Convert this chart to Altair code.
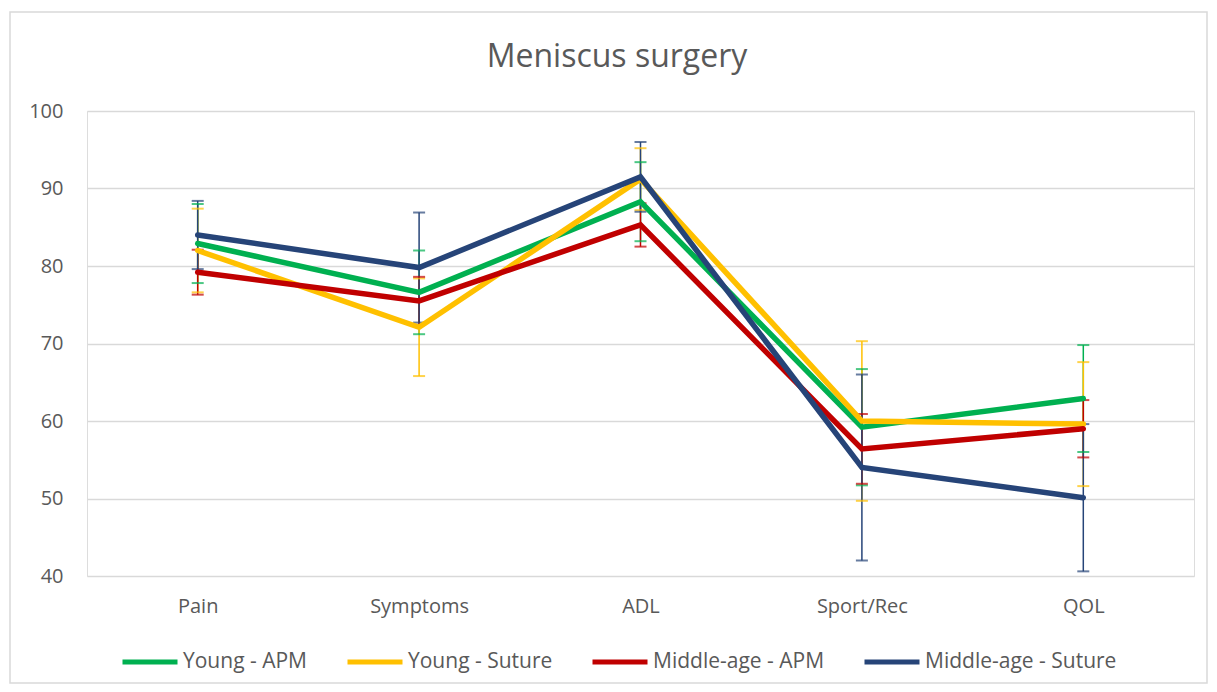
import altair as alt
import pandas as pd

categories = ["Pain", "Symptoms", "ADL", "Sport/Rec", "QOL"]
groups = ["Young - APM", "Young - Suture", "Middle-age - APM", "Middle-age - Suture"]
colors = ["#00b050", "#ffc000", "#c00000", "#264478"]
title_text = "Meniscus surgery"

young_apm_mean = [82.9, 76.6, 88.3, 59.2, 62.9]
young_apm_err = [5.1, 5.4, 5.1, 7.5, 6.9]
young_suture_mean = [82.0, 72.1, 91.2, 60.0, 59.6]
young_suture_err = [5.4, 6.3, 4.0, 10.3, 8.0]
middle_apm_mean = [79.2, 75.5, 85.3, 56.4, 59.0]
middle_apm_err = [2.9, 3.1, 2.8, 4.5, 3.7]
middle_suture_mean = [84.0, 79.8, 91.5, 54.0, 50.1]
middle_suture_err = [4.4, 7.1, 4.5, 12.0, 9.5]

means = [young_apm_mean, young_suture_mean, middle_apm_mean, middle_suture_mean]
errs = [young_apm_err, young_suture_err, middle_apm_err, middle_suture_err]

rows = []
for gi, g in enumerate(groups):
    for ci, c in enumerate(categories):
        rows.append({"cat": c, "group": g, "order": gi,
                     "mean": means[gi][ci], "err": errs[gi][ci]})
df = pd.DataFrame(rows)

FONT = "Open Sans"
TXT = "#595959"

x = alt.X("cat:N", sort=categories, title=None,
          scale=alt.Scale(type="point", padding=0.5),
          axis=alt.Axis(labelAngle=0, ticks=False, domain=False, grid=False,
                        labelPadding=20, labelFontSize=20, labelColor=TXT,
                        labelFont=FONT))
y = alt.Y("mean:Q", title=None,
          scale=alt.Scale(domain=[40, 100], nice=False, zero=False),
          axis=alt.Axis(values=[40, 50, 60, 70, 80, 90, 100], ticks=False,
                        domain=False, labelPadding=24, labelFontSize=20,
                        labelColor=TXT, labelFont=FONT, gridColor="#d9d9d9",
                        gridWidth=1.5))
scale_c = alt.Scale(domain=groups, range=colors)
color_nolegend = alt.Color("group:N", sort=groups, scale=scale_c, legend=None)
color = alt.Color("group:N", sort=groups, scale=scale_c,
                  legend=alt.Legend(title=None, orient="none", direction="horizontal",
                                    legendX=33, legendY=521, padding=0,
                                    symbolType="stroke", symbolSize=3025,
                                    symbolStrokeWidth=5, labelFontSize=21,
                                    labelColor=TXT, labelFont=FONT, labelOffset=3,
                                    labelLimit=0, columnPadding=29))

base = alt.Chart(df).transform_calculate(
    lo="datum.mean - datum.err", hi="datum.mean + datum.err")

bars = base.mark_rule(strokeWidth=1.5).encode(
    x=x, y=alt.Y("lo:Q"), y2="hi:Q", color=color_nolegend)
caps_hi = base.mark_tick(size=12, thickness=2, orient="horizontal").encode(
    x=x, y=alt.Y("hi:Q"), color=color_nolegend)
caps_lo = base.mark_tick(size=12, thickness=2, orient="horizontal").encode(
    x=x, y=alt.Y("lo:Q"), color=color_nolegend)
lines = base.mark_line(strokeWidth=5.5, strokeCap="round", strokeJoin="miter").encode(
    x=x, y=y, color=color, order="order:Q", detail="group:N")

one = pd.DataFrame({"a": [0]})
border = alt.Chart(one).mark_rect(
    fill=None, stroke="#d9d9d9", strokeWidth=1.5).encode(
    x=alt.value(-77), x2=alt.value(1120), y=alt.value(-99), y2=alt.value(572))
title = alt.Chart(one).mark_text(
    font=FONT, fontSize=32, color=TXT, align="center", baseline="alphabetic").encode(
    x=alt.value(530), y=alt.value(-44), text=alt.value(title_text))

chart = alt.layer(border, title, bars, caps_hi, caps_lo, lines).resolve_legend(
    color="independent"
).properties(
    width=1107, height=465,
    autosize="none",
    padding={"left": 79, "top": 103, "right": 15, "bottom": 108},
).configure_view(stroke=None).configure(background="white")

chart.save("out.html", embed_options={"renderer": "svg", "actions": False})
